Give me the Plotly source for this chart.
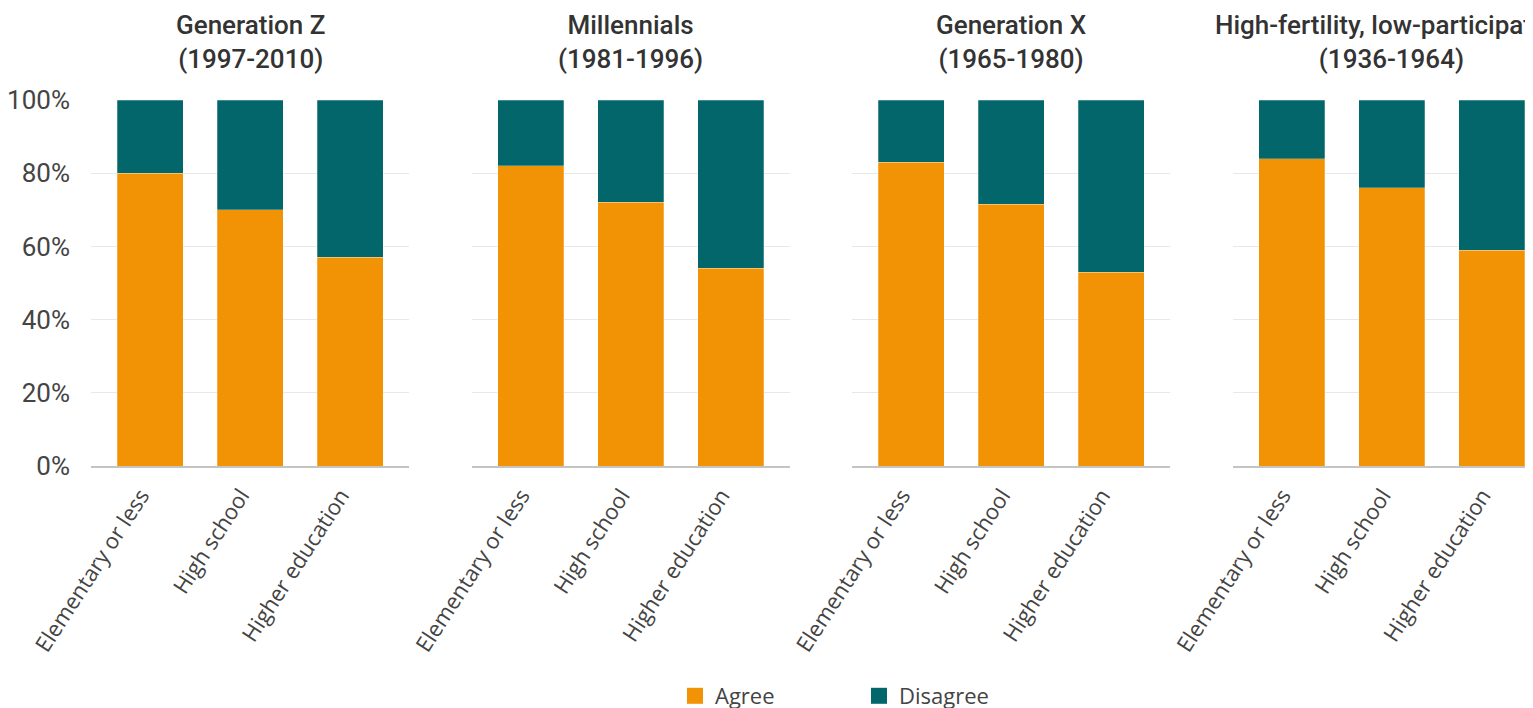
import plotly.graph_objects as go

categories = ["Elementary or less", "High school", "Higher education"]
panel_titles = [
    "Generation Z<br>(1997-2010)",
    "Millennials<br>(1981-1996)",
    "Generation X<br>(1965-1980)",
    "High-fertility, low-participation<br>(1936-1964)",
]
agree = [
    [80, 70, 57],
    [82, 72, 54],
    [83, 71.5, 53],
    [84, 76, 59],
]
disagree = [
    [20, 30, 43],
    [18, 28, 46],
    [17, 28.5, 47],
    [16, 24, 41],
]
y_ticks = [0, 20, 40, 60, 80, 100]
y_tick_labels = ["0%", "20%", "40%", "60%", "80%", "100%"]

ORANGE = "#F29205"
TEAL = "#03666A"
TEXT = "#444444"

# page body has an 8px margin, so the figure is 8px smaller than the window
W, H = 1525, 700
ML, MR, MT, MB = 83, 0, 92, 242
plot_w = W - ML - MR
plot_h = H - MT - MB
px = lambda p: (p - ML) / plot_w
domains = [
    [px(83), px(401)],
    [px(463.5), px(781.5)],
    [px(844), px(1162)],
    [px(1224.5), 1.0],
]
ranges = [
    [-0.59, 2.59],
    [-0.59, 2.59],
    [-0.59, 2.59],
    [-0.59, -0.59 + 3.005],
]

fig = go.Figure()
for i in range(4):
    ax = "" if i == 0 else str(i + 1)
    fig.add_trace(go.Bar(
        x=categories, y=agree[i], name="Agree",
        marker=dict(color=ORANGE, line=dict(color="rgba(255,255,255,0.5)", width=0.5)),
        width=0.66, xaxis="x" + ax, yaxis="y" + ax,
        showlegend=False, legendgroup="agree",
    ))
    fig.add_trace(go.Bar(
        x=categories, y=disagree[i], name="Disagree",
        marker=dict(color=TEAL, line=dict(color="rgba(255,255,255,0.5)", width=0.5)),
        width=0.66, xaxis="x" + ax, yaxis="y" + ax,
        showlegend=False, legendgroup="disagree",
    ))

# legend keys (no data points)
for name, col in [("Agree", ORANGE), ("Disagree", TEAL)]:
    fig.add_trace(go.Scatter(
        x=[None], y=[None], mode="markers", name=name,
        marker=dict(symbol="square", size=16, color=col, line=dict(width=0)),
        legendgroup=name.lower(), showlegend=True, hoverinfo="skip",
    ))

layout = dict(
    width=W, height=H,
    margin=dict(l=ML, r=MR, t=MT, b=MB, autoexpand=False),
    barmode="stack",
    plot_bgcolor="white", paper_bgcolor="white",
    font=dict(family="Open Sans", color=TEXT),
    legend=dict(
        orientation="h", x=px(667), xanchor="left",
        y=(458 - 688) / plot_h, yanchor="middle",
        font=dict(family="Open Sans", size=22, color=TEXT),
        entrywidth=139, entrywidthmode="pixels", itemclick=False,
        itemsizing="trace",
    ),
    annotations=[],
)
for i in range(4):
    ax = "" if i == 0 else str(i + 1)
    layout["xaxis" + ax] = dict(
        domain=domains[i], range=ranges[i], anchor="y" + ax,
        showline=True, linecolor="#c4c4c4", linewidth=2,
        showgrid=False, zeroline=False, ticks="",
        tickangle=-57, tickfont=dict(family="Open Sans", size=22, color=TEXT),
        ticklabelstandoff=6, ticklabelshift=-9, automargin=False,
    )
    layout["yaxis" + ax] = dict(
        domain=[0, 1], range=[0, 100], anchor="x" + ax,
        tickvals=y_ticks, ticktext=y_tick_labels,
        showticklabels=(i == 0),
        tickfont=dict(family="Roboto", size=26, color=TEXT),
        showgrid=True, gridcolor="#e8e8e8", gridwidth=1,
        zeroline=False, showline=False, ticks="",
        ticklabelstandoff=20, automargin=False,
    )
    layout["annotations"].append(dict(
        text=panel_titles[i], xref="x" + ax, x=1, yref="paper", y=1,
        xanchor="center", yanchor="bottom", yshift=24, showarrow=False,
        font=dict(family="Roboto", size=26, color="#333333", weight=500),
        align="center",
    ))

fig.update_layout(**layout)
fig.write_html("out.html")
